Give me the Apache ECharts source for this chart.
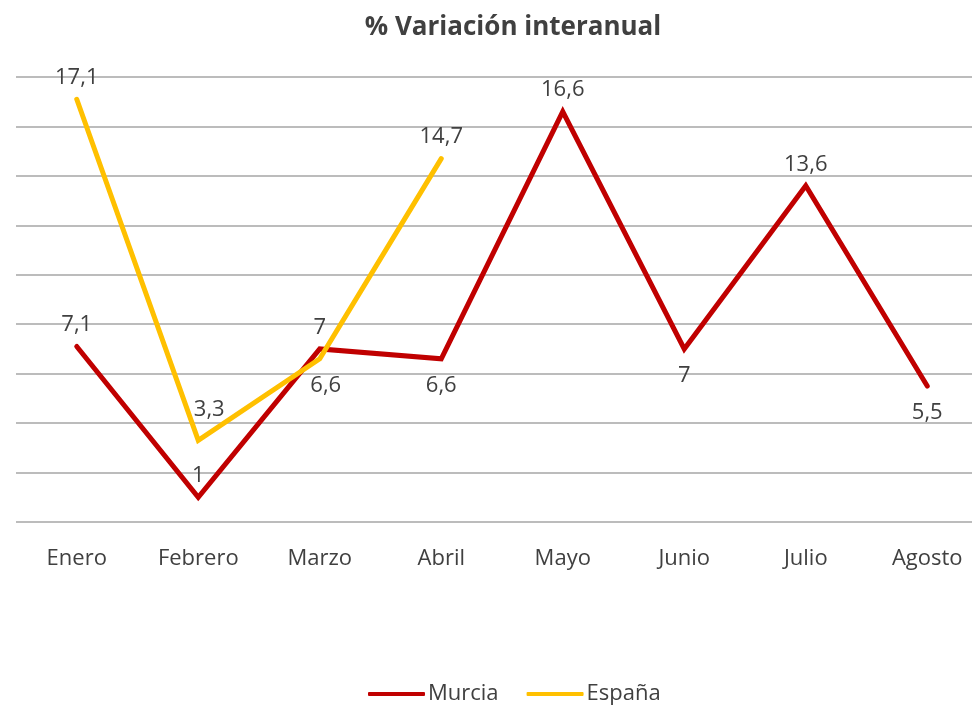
<!DOCTYPE html>
<html>
<head>
<meta charset="utf-8">
<script src="https://cdn.jsdelivr.net/npm/echarts@6/dist/echarts.min.js"></script>
<style>
  html, body { margin: 0; padding: 0; background: #fff; }
  #chart { width: 972px; height: 705px; }
</style>
</head>
<body>
<div id="chart"></div>
<script>
// datos
var meses = ['Enero', 'Febrero', 'Marzo', 'Abril', 'Mayo', 'Junio', 'Julio', 'Agosto'];
var murcia = [7.1, 1, 7, 6.6, 16.6, 7, 13.6, 5.5];
var espana = [17.1, 3.3, 6.6, 14.7];

var fuente = 'Open Sans';

// posicion de las etiquetas de cada punto
var posMurcia = ['top', 'top', 'top', 'bottom', 'top', 'bottom', 'top', 'bottom'];
var posEspana = ['top', 'top', 'bottom', 'top'];
var despEspana = [[0, 0], [11, -9], [6, 0], [0, 0]];

function conEtiquetas(valores, posiciones, desp) {
  return valores.map(function (v, i) {
    var abajo = posiciones[i] === 'bottom';
    return {
      value: v,
      label: {
        position: posiciones[i],
        distance: abajo ? 15 : 10,
        offset: desp ? desp[i] : [0, 0]
      }
    };
  });
}

function coma(p) { return String(p.value).replace('.', ','); }

var chart = echarts.init(document.getElementById('chart'));

var option = {
  animation: false,
  textStyle: { fontFamily: fuente },
  title: {
    text: '% Variación interanual',
    left: 508,
    textAlign: 'center',
    top: 10,
    textStyle: { fontSize: 26, fontWeight: 'bold', color: '#404040', fontFamily: fuente }
  },
  legend: {
    data: ['Murcia', 'España'],
    top: 678,
    left: 363,
    itemWidth: 57,
    itemHeight: 4,
    itemGap: 28,
    icon: 'roundRect',
    textStyle: { fontSize: 22, color: '#404040', padding: [0, 0, 0, -2] }
  },
  grid: { left: 16, width: 972, top: 77, height: 445, outerBoundsMode: 'none', containLabel: false },
  xAxis: {
    type: 'category',
    data: meses,
    boundaryGap: true,
    axisLine: { show: false },
    axisTick: { show: false },
    axisLabel: { fontSize: 22, color: '#404040', margin: 26 }
  },
  yAxis: {
    type: 'value',
    min: 0,
    max: 18,
    interval: 2,
    axisLabel: { show: false },
    axisLine: { show: false },
    axisTick: { show: false },
    splitLine: { lineStyle: { color: '#a6a6a6', width: 1.5 } }
  },
  series: [
    {
      name: 'Murcia',
      type: 'line',
      data: conEtiquetas(murcia, posMurcia),
      color: '#c00000',
      lineStyle: { width: 5, cap: 'round', join: 'miter' },
      symbol: 'circle',
      symbolSize: 1,
      label: { show: true, fontSize: 22, color: '#404040', formatter: coma }
    },
    {
      name: 'España',
      type: 'line',
      data: conEtiquetas(espana, posEspana, despEspana),
      color: '#ffc000',
      lineStyle: { width: 5, cap: 'round', join: 'miter' },
      symbol: 'circle',
      symbolSize: 1,
      label: { show: true, fontSize: 22, color: '#404040', formatter: coma }
    }
  ]
};

chart.setOption(option);
</script>
</body>
</html>
